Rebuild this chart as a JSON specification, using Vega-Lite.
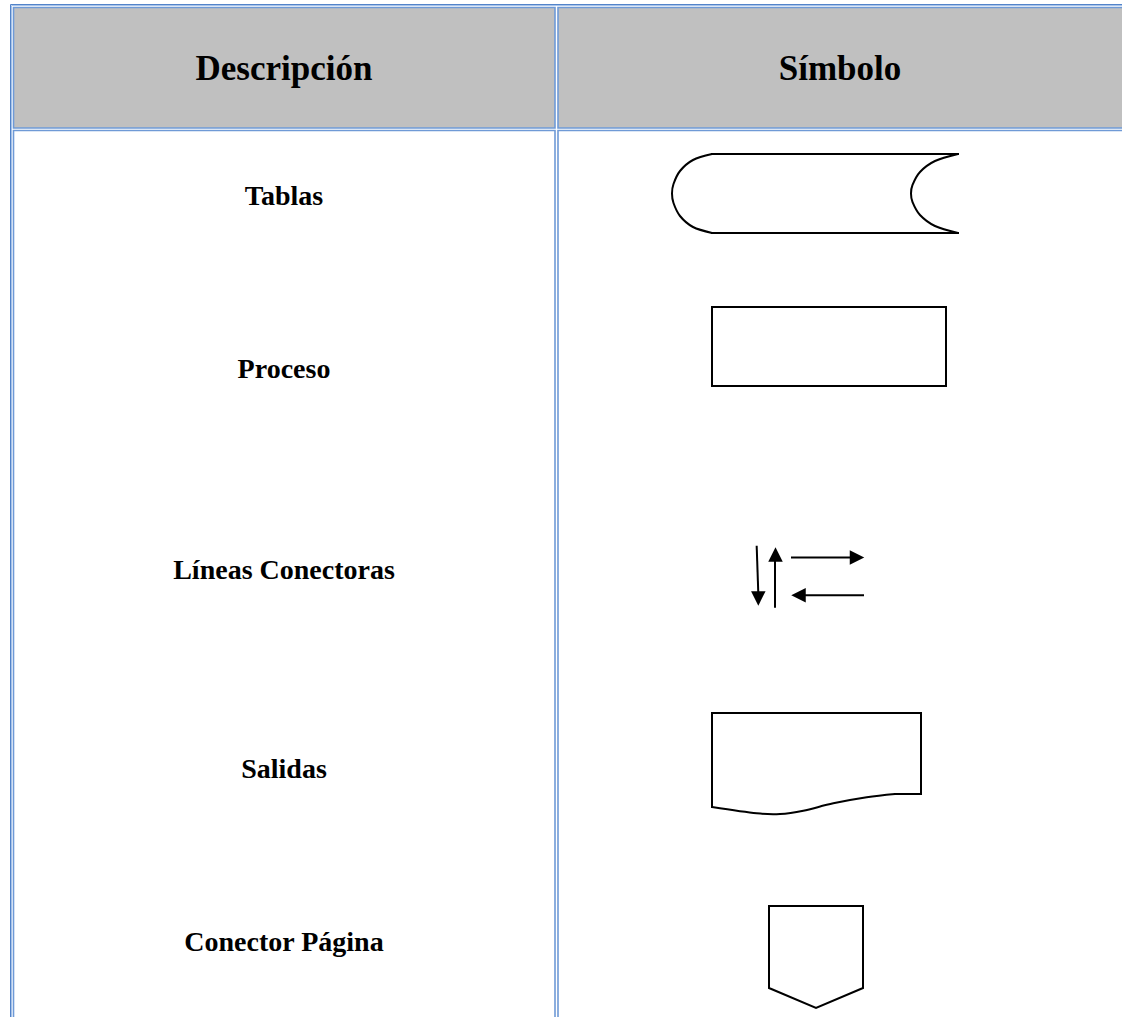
{
  "$schema": "https://vega.github.io/schema/vega-lite/v6.json",
  "width": 1122,
  "height": 1017,
  "autosize": {"type": "fit", "contains": "padding"},
  "padding": 0,
  "background": "#ffffff",
  "config": {"view": {"stroke": null}},
  "datasets": {
    "frame": [
      {"x": 10.5, "y": 4.5, "x2": 1160, "y2": 1060, "tone": "dark"},
      {"x": 11.5, "y": 5.5, "x2": 1159, "y2": 1059, "tone": "light"}
    ],
    "cells": [
      {"x": 13.5, "y": 7.5, "x2": 555, "y2": 128, "part": "header"},
      {"x": 558, "y": 7.5, "x2": 1150, "y2": 128, "part": "header"},
      {"x": 13.5, "y": 130.5, "x2": 555, "y2": 1050, "part": "body"},
      {"x": 558, "y": 130.5, "x2": 1150, "y2": 1050, "part": "body"}
    ],
    "headers": [
      {"x": 284, "y": 69, "label": "Descripción"},
      {"x": 840, "y": 69, "label": "Símbolo"}
    ],
    "labels": [
      {"x": 284, "y": 197, "label": "Tablas"},
      {"x": 284, "y": 370, "label": "Proceso"},
      {"x": 284, "y": 571, "label": "Líneas Conectoras"},
      {"x": 284, "y": 770, "label": "Salidas"},
      {"x": 284, "y": 943, "label": "Conector Página"}
    ],
    "lines": [
      {"path": "tabla-top", "i": 0, "x": 712, "y": 154},
      {"path": "tabla-top", "i": 1, "x": 958, "y": 154},
      {"path": "tabla-bottom", "i": 0, "x": 712, "y": 233},
      {"path": "tabla-bottom", "i": 1, "x": 958, "y": 233},
      {"path": "proceso", "i": 0, "x": 712, "y": 307},
      {"path": "proceso", "i": 1, "x": 946, "y": 307},
      {"path": "proceso", "i": 2, "x": 946, "y": 386},
      {"path": "proceso", "i": 3, "x": 712, "y": 386},
      {"path": "proceso", "i": 4, "x": 712, "y": 307},
      {"path": "down", "i": 0, "x": 756.7, "y": 546.7},
      {"path": "down", "i": 1, "x": 758.3, "y": 593},
      {"path": "up", "i": 0, "x": 775, "y": 606.7},
      {"path": "up", "i": 1, "x": 775, "y": 561},
      {"path": "right", "i": 0, "x": 792, "y": 557.5},
      {"path": "right", "i": 1, "x": 850, "y": 557.5},
      {"path": "left", "i": 0, "x": 863, "y": 595.3},
      {"path": "left", "i": 1, "x": 805, "y": 595.3},
      {"path": "salidas", "i": 0, "x": 712, "y": 807},
      {"path": "salidas", "i": 1, "x": 712, "y": 713},
      {"path": "salidas", "i": 2, "x": 921, "y": 713},
      {"path": "salidas", "i": 3, "x": 921, "y": 794},
      {"path": "salidas", "i": 4, "x": 895, "y": 794},
      {"path": "conector", "i": 0, "x": 769, "y": 906},
      {"path": "conector", "i": 1, "x": 863, "y": 906},
      {"path": "conector", "i": 2, "x": 863, "y": 988},
      {"path": "conector", "i": 3, "x": 816, "y": 1008},
      {"path": "conector", "i": 4, "x": 769, "y": 988},
      {"path": "conector", "i": 5, "x": 769, "y": 906}
    ],
    "curves": [
      {"path": "tabla-left", "i": 0, "x": 712, "y": 154},
      {"path": "tabla-left", "i": 1, "x": 693, "y": 160},
      {"path": "tabla-left", "i": 2, "x": 680, "y": 171},
      {"path": "tabla-left", "i": 3, "x": 673.5, "y": 184},
      {"path": "tabla-left", "i": 4, "x": 672, "y": 193.5},
      {"path": "tabla-left", "i": 5, "x": 673.5, "y": 203},
      {"path": "tabla-left", "i": 6, "x": 680, "y": 216},
      {"path": "tabla-left", "i": 7, "x": 693, "y": 227},
      {"path": "tabla-left", "i": 8, "x": 712, "y": 233},
      {"path": "tabla-right", "i": 0, "x": 958, "y": 154},
      {"path": "tabla-right", "i": 1, "x": 935, "y": 161},
      {"path": "tabla-right", "i": 2, "x": 920, "y": 172},
      {"path": "tabla-right", "i": 3, "x": 912.5, "y": 185},
      {"path": "tabla-right", "i": 4, "x": 911, "y": 193.5},
      {"path": "tabla-right", "i": 5, "x": 912.5, "y": 202},
      {"path": "tabla-right", "i": 6, "x": 920, "y": 215},
      {"path": "tabla-right", "i": 7, "x": 935, "y": 226},
      {"path": "tabla-right", "i": 8, "x": 958, "y": 233},
      {"path": "salidas-wave", "i": 0, "x": 895, "y": 794},
      {"path": "salidas-wave", "i": 1, "x": 866.7, "y": 797.3},
      {"path": "salidas-wave", "i": 2, "x": 833.3, "y": 803.3},
      {"path": "salidas-wave", "i": 3, "x": 803.3, "y": 810.7},
      {"path": "salidas-wave", "i": 4, "x": 780, "y": 814},
      {"path": "salidas-wave", "i": 5, "x": 756.7, "y": 813.3},
      {"path": "salidas-wave", "i": 6, "x": 712, "y": 807}
    ],
    "heads": [
      {"x": 758.3, "y": 598.5, "dir": "down"},
      {"x": 775.5, "y": 554.5, "dir": "up"},
      {"x": 857, "y": 557.5, "dir": "right"},
      {"x": 798.5, "y": 595.3, "dir": "left"}
    ]
  },
  "encoding": {
    "x": {"field": "x", "type": "quantitative", "scale": {"domain": [0, 1122], "nice": false, "zero": false}, "axis": null},
    "y": {"field": "y", "type": "quantitative", "scale": {"domain": [0, 1017], "nice": false, "zero": false, "reverse": true}, "axis": null}
  },
  "layer": [
    {
      "data": {"name": "cells"},
      "mark": {"type": "rect", "clip": true, "stroke": "#6f9ad6", "strokeWidth": 1.6},
      "encoding": {
        "x2": {"field": "x2"},
        "y2": {"field": "y2"},
        "fill": {"field": "part", "type": "nominal", "scale": {"domain": ["header", "body"], "range": ["#c0c0c0", "#ffffff"]}, "legend": null}
      }
    },
    {
      "data": {"name": "frame"},
      "mark": {"type": "rect", "clip": true, "fill": null, "filled": false, "strokeWidth": 1},
      "encoding": {
        "x2": {"field": "x2"},
        "y2": {"field": "y2"},
        "stroke": {"field": "tone", "type": "nominal", "scale": {"domain": ["dark", "light"], "range": ["#5283c9", "#a6c3ea"]}, "legend": null}
      }
    },
    {
      "data": {"name": "headers"},
      "mark": {"type": "text", "font": "Liberation Serif", "fontWeight": "bold", "fontSize": 35, "align": "center", "baseline": "middle", "color": "#000000"},
      "encoding": {"text": {"field": "label", "type": "nominal"}}
    },
    {
      "data": {"name": "labels"},
      "mark": {"type": "text", "font": "Liberation Serif", "fontWeight": "bold", "fontSize": 28, "align": "center", "baseline": "middle", "color": "#000000"},
      "encoding": {"text": {"field": "label", "type": "nominal"}}
    },
    {
      "data": {"name": "lines"},
      "mark": {"type": "line", "color": "#000000", "strokeWidth": 2, "interpolate": "linear", "strokeJoin": "miter", "strokeCap": "square"},
      "encoding": {
        "detail": {"field": "path", "type": "nominal"},
        "order": {"field": "i", "type": "quantitative"}
      }
    },
    {
      "data": {"name": "curves"},
      "mark": {"type": "line", "color": "#000000", "strokeWidth": 2, "interpolate": "cardinal"},
      "encoding": {
        "detail": {"field": "path", "type": "nominal"},
        "order": {"field": "i", "type": "quantitative"}
      }
    },
    {
      "data": {"name": "heads"},
      "mark": {"type": "point", "filled": true, "color": "#000000", "opacity": 1, "size": 210, "strokeWidth": 0},
      "encoding": {
        "shape": {"field": "dir", "type": "nominal", "scale": {"domain": ["down", "up", "right", "left"], "range": ["M-1,-1L1,-1L0,1Z", "M-1,1L1,1L0,-1Z", "M-1,-1L-1,1L1,0Z", "M1,-1L1,1L-1,0Z"]}, "legend": null}
      }
    }
  ]
}
